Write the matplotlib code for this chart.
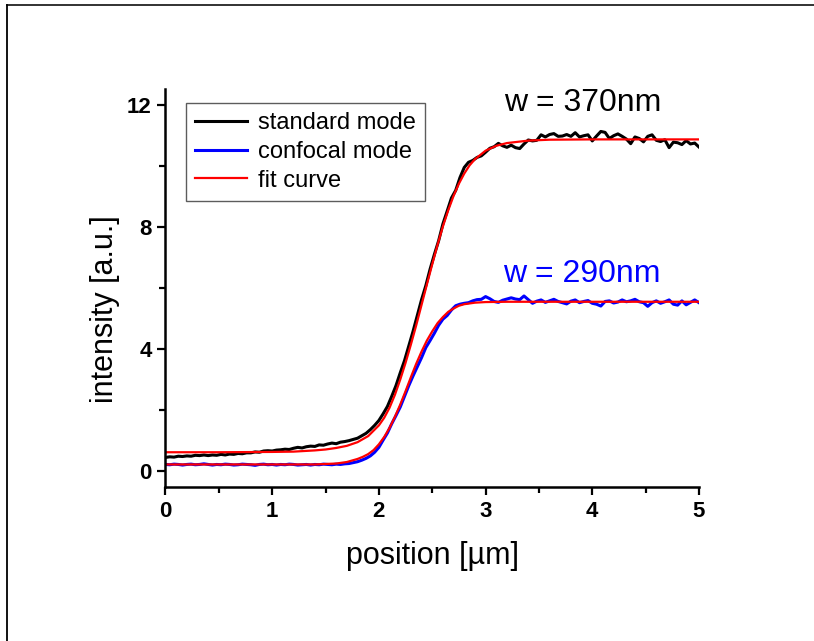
import matplotlib
matplotlib.use("Agg")
import matplotlib.pyplot as plt
from matplotlib.lines import Line2D
import numpy as np

plt.rcParams['font.family'] = ['Liberation Sans', 'DejaVu Sans']

# scan positions (um), 0.04 um step
position = np.linspace(0, 5, 126)

standard = [
    0.45, 0.47, 0.46, 0.49, 0.48, 0.50, 0.49, 0.52, 0.51, 0.53,
    0.51, 0.53, 0.52, 0.55, 0.53, 0.56, 0.55, 0.58, 0.57, 0.60,
    0.60, 0.63, 0.62, 0.66, 0.67, 0.66, 0.69, 0.70, 0.72, 0.71,
    0.75, 0.78, 0.76, 0.80, 0.82, 0.81, 0.86, 0.85, 0.89, 0.92,
    0.90, 0.95, 0.97, 1.00, 1.04, 1.08, 1.16, 1.24, 1.36, 1.50,
    1.66, 1.88, 2.12, 2.45, 2.80, 3.22, 3.62, 4.10, 4.58, 5.10,
    5.62, 6.08, 6.62, 7.10, 7.55, 8.10, 8.52, 8.95, 9.20, 9.62,
    9.95, 10.12, 10.18, 10.28, 10.33, 10.45, 10.58, 10.63, 10.74, 10.66,
    10.61, 10.68, 10.60, 10.57, 10.72, 10.85, 10.82, 10.84, 11.02, 10.95,
    11.03, 11.06, 10.97, 10.98, 11.03, 10.97, 11.09, 10.95, 10.99, 11.02,
    10.82, 10.98, 11.13, 11.10, 10.90, 10.99, 11.05, 10.97, 10.88, 10.73,
    10.95, 10.90, 10.79, 10.97, 11.02, 10.84, 10.80, 10.86, 10.60, 10.78,
    10.76, 10.70, 10.83, 10.72, 10.75, 10.62,
]

confocal = [
    0.22, 0.21, 0.23, 0.22, 0.20, 0.22, 0.23, 0.21, 0.22, 0.24,
    0.22, 0.20, 0.22, 0.21, 0.23, 0.22, 0.20, 0.21, 0.23, 0.22,
    0.21, 0.19, 0.22, 0.23, 0.21, 0.22, 0.20, 0.22, 0.21, 0.23,
    0.22, 0.20, 0.21, 0.22, 0.20, 0.22, 0.21, 0.23, 0.22, 0.21,
    0.23, 0.22, 0.24, 0.25, 0.28, 0.31, 0.36, 0.42, 0.50, 0.62,
    0.78, 1.02, 1.25, 1.55, 1.82, 2.10, 2.45, 2.80, 3.12, 3.42,
    3.72, 4.05, 4.28, 4.52, 4.78, 4.98, 5.10, 5.28, 5.42, 5.47,
    5.50, 5.52, 5.58, 5.62, 5.63, 5.72, 5.65, 5.56, 5.53, 5.60,
    5.64, 5.68, 5.64, 5.62, 5.74, 5.62, 5.50, 5.57, 5.61, 5.53,
    5.58, 5.63, 5.56, 5.52, 5.48, 5.57, 5.61, 5.52, 5.56, 5.59,
    5.50, 5.47, 5.41, 5.56, 5.58, 5.51, 5.54, 5.61, 5.55, 5.58,
    5.63, 5.55, 5.52, 5.40, 5.52, 5.58, 5.50, 5.55, 5.61, 5.47,
    5.44, 5.58, 5.45, 5.53, 5.61, 5.52,
]

# fitted edge profiles
fit_std_x = [0.0, 0.5, 1.0, 1.2, 1.4, 1.5, 1.6, 1.7, 1.8, 1.9, 2.0, 2.05,
             2.1, 2.15, 2.2, 2.25, 2.3, 2.35, 2.4, 2.45, 2.5, 2.55, 2.6,
             2.65, 2.7, 2.75, 2.8, 2.85, 2.9, 3.0, 3.1, 3.2, 3.4, 3.6,
             4.0, 5.0]
fit_std_y = [0.62, 0.62, 0.63, 0.64, 0.68, 0.71, 0.76, 0.83, 0.95, 1.15,
             1.50, 1.75, 2.08, 2.50, 3.00, 3.55, 4.15, 4.78, 5.45, 6.12,
             6.78, 7.42, 8.02, 8.55, 9.02, 9.42, 9.75, 10.02, 10.22, 10.50,
             10.66, 10.75, 10.83, 10.86, 10.87, 10.87]

fit_conf_x = [0.0, 1.0, 1.4, 1.6, 1.7, 1.8, 1.85, 1.9, 1.95, 2.0, 2.05,
              2.1, 2.15, 2.2, 2.25, 2.3, 2.35, 2.4, 2.45, 2.5, 2.55, 2.6,
              2.65, 2.7, 2.75, 2.8, 2.9, 3.0, 3.2, 5.0]
fit_conf_y = [0.22, 0.22, 0.22, 0.25, 0.30, 0.40, 0.47, 0.56, 0.69, 0.88,
              1.12, 1.42, 1.78, 2.18, 2.62, 3.08, 3.52, 3.92, 4.28, 4.58,
              4.85, 5.05, 5.22, 5.33, 5.42, 5.47, 5.52, 5.54, 5.55, 5.55]

fig = plt.figure(figsize=(8.14, 6.41), dpi=100)
ax = fig.add_axes([0.2033, 0.2402, 0.6554, 0.6209])

ax.plot(position, standard, color='black', lw=2.2, label='standard mode')
ax.plot(position, confocal, color='#0000ff', lw=2.2, label='confocal mode')
ax.plot(fit_std_x, fit_std_y, color='#ff0000', lw=1.6, label='fit curve')
ax.plot(fit_conf_x, fit_conf_y, color='#ff0000', lw=1.6)

ax.set_xlim(0, 5)
ax.set_ylim(-0.52, 12.52)
ax.set_xticks([0, 1, 2, 3, 4, 5])
ax.set_xticks([0.5, 1.5, 2.5, 3.5, 4.5], minor=True)
ax.set_yticks([0, 4, 8, 12])
ax.set_yticks([2, 6, 10], minor=True)

for side in ('top', 'right'):
    ax.spines[side].set_visible(False)
for side in ('left', 'bottom'):
    ax.spines[side].set_linewidth(1.8)

ax.tick_params(which='major', direction='out', length=6, width=1.6,
               labelsize=16, pad=4)
ax.tick_params(which='minor', direction='out', length=4, width=1.6)
for lab in ax.get_xticklabels() + ax.get_yticklabels():
    lab.set_fontweight('bold')

ax.set_xlabel('position [µm]', fontsize=22, va='center')
ax.xaxis.set_label_coords(0.5, -0.173)
ax.set_ylabel('intensity [a.u.]', fontsize=22, va='center')
ax.yaxis.set_label_coords(-0.113, 0.447)

ax.text(3.17, 12.05, 'w = 370nm', fontsize=23, color='black',
        ha='left', va='center')
ax.text(3.16, 6.47, 'w = 290nm', fontsize=23, color='#0000ff',
        ha='left', va='center')

leg = ax.legend(loc='upper left', bbox_to_anchor=(0.038, 0.965),
                fontsize=17, frameon=True, fancybox=False,
                handlelength=2.2, handletextpad=0.45, labelspacing=0.28,
                borderpad=0.4, borderaxespad=0.0)
leg.get_frame().set_edgecolor('#333333')
leg.get_frame().set_linewidth(1.0)

# outer frame lines
fig.add_artist(Line2D([7 / 814, 1.0], [1 - 5 / 641, 1 - 5 / 641],
                      transform=fig.transFigure, color='#222222', lw=1.3))
fig.add_artist(Line2D([7 / 814, 7 / 814], [0.0, 1 - 5 / 641],
                      transform=fig.transFigure, color='black', lw=1.3))

fig.savefig('out.png', dpi=100)
